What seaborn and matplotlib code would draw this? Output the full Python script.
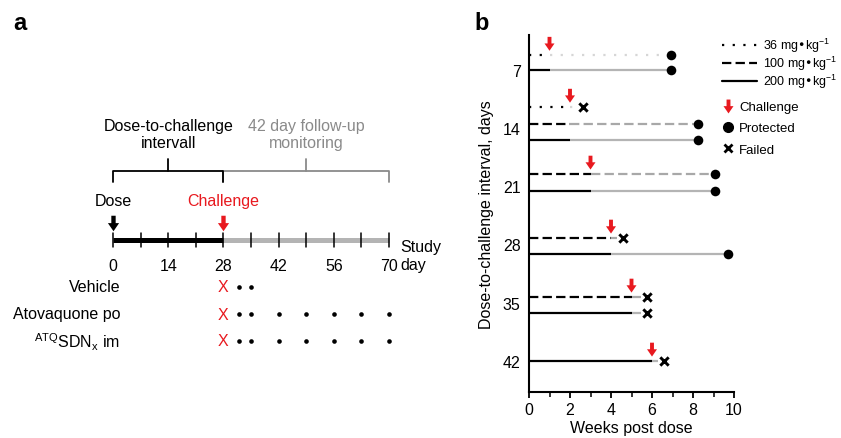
import numpy as np
import pandas as pd
import matplotlib
matplotlib.use("Agg")
import matplotlib.pyplot as plt
from matplotlib.path import Path
from matplotlib.lines import Line2D
import seaborn as sns

# ---- panel a: study schedule (days)
tick_days = [0, 14, 28, 42, 56, 70]
week_marks = [0, 7, 14, 21, 28, 35, 42, 49, 56, 63, 70]
dose_day = 0
challenge_day = 28
study_end = 70
groups = ["Vehicle", "Atovaquone po", "$^{ATQ}$SDN$_{x}$ im"]
vehicle_days = [32, 35]
atq_po_days = [32, 35, 42, 49, 56, 63, 70]
sdn_days = [32, 35, 42, 49, 56, 63, 70]

# ---- panel b: dose-to-challenge cohorts
intervals = [7, 7, 14, 14, 14, 21, 21, 28, 28, 35, 35, 42]
doses = ["36", "200", "36", "100", "200", "100", "200", "100", "200", "100", "200", "200"]
row_pos = [5.2, 7.0, 11.45, 13.5, 15.4, 19.5, 21.55, 27.2, 29.1, 34.3, 36.2, 42.0]
end_weeks = [6.93, 6.93, 2.63, 8.24, 8.24, 9.07, 9.07, 4.59, 9.7, 5.76, 5.76, 6.6]
outcomes = ["Protected", "Protected", "Failed", "Protected", "Protected", "Protected",
            "Protected", "Failed", "Protected", "Failed", "Failed", "Failed"]
interval_ticks = [7, 14, 21, 28, 35, 42]
dose_labels = ["36 mg•kg$^{-1}$", "100 mg•kg$^{-1}$", "200 mg•kg$^{-1}$"]

RED = "#e8191f"
GREY_TXT = "#8a8a8a"
dose_style = {"36": (0, (1, 3.8)), "100": (0, (4.2, 1.9)), "200": "-"}
dose_grey = {"36": "#d6d6d6", "100": "#a8a8a8", "200": "#b4b4b4"}

# block arrow pointing down
arrow = Path([(-0.28, 1.0), (0.28, 1.0), (0.28, 0.05), (0.72, 0.05), (0.0, -1.0),
              (-0.72, 0.05), (-0.28, 0.05), (-0.28, 1.0)],
             [Path.MOVETO] + [Path.LINETO] * 6 + [Path.CLOSEPOLY])

sns.set_theme(style="ticks")
plt.rcParams["font.family"] = ["Liberation Sans", "DejaVu Sans"]
plt.rcParams["mathtext.default"] = "regular"
for key in ("text.color", "axes.labelcolor", "xtick.color", "ytick.color", "axes.edgecolor"):
    plt.rcParams[key] = "black"
FS = 11.5

W, H = 841, 439
fig = plt.figure(figsize=(W / 100, H / 100), dpi=100)

# ================= panel a =================
axa = fig.add_axes([0, 0, 0.5, 1])
px_per_day = 3.943
x0 = 113
tl_y = -0.74

axa.plot([challenge_day, study_end], [tl_y, tl_y], color="#b4b4b4", lw=3.6, solid_capstyle="butt")
axa.plot([dose_day, challenge_day], [tl_y, tl_y], color="black", lw=3.6, solid_capstyle="butt")
for d in week_marks:
    axa.plot([d, d], [tl_y - 0.27, tl_y + 0.27], color="black", lw=1.1)
for d in tick_days:
    axa.text(d, 0.2, str(d), ha="center", va="center", fontsize=FS)
axa.text(72.8, -0.16, "Study\nday", ha="left", va="center", fontsize=FS, linespacing=1.2)

axa.scatter([dose_day], [-1.37], marker=arrow, s=125, color="black", linewidths=0)
axa.scatter([challenge_day], [-1.37], marker=arrow, s=125, color=RED, linewidths=0)
axa.text(dose_day, -2.22, "Dose", ha="center", va="center", fontsize=FS)
axa.text(challenge_day, -2.22, "Challenge", ha="center", va="center", fontsize=FS, color=RED)

# brackets
b_low, b_mid, b_top = -2.9, -3.3, -3.74
axa.plot([challenge_day, challenge_day, study_end, study_end], [b_low, b_mid, b_mid, b_low],
         color=GREY_TXT, lw=1.3)
axa.plot([49, 49], [b_mid, b_top], color=GREY_TXT, lw=1.3)
axa.plot([dose_day, dose_day, challenge_day, challenge_day], [b_low, b_mid, b_mid, b_low],
         color="black", lw=1.3)
axa.plot([14, 14], [b_mid, b_top], color="black", lw=1.3)
axa.text(14, -4.67, "Dose-to-challenge\nintervall", ha="center", va="center", fontsize=FS,
         linespacing=1.15)
axa.text(49, -4.67, "42 day follow-up\nmonitoring", ha="center", va="center", fontsize=FS,
         color=GREY_TXT, linespacing=1.15)

obs = pd.DataFrame({
    "day": vehicle_days + atq_po_days + sdn_days,
    "row": [1] * len(vehicle_days) + [2] * len(atq_po_days) + [3] * len(sdn_days),
})
sns.scatterplot(data=obs, x="day", y="row", color="black", s=11, linewidth=0,
                ax=axa, legend=False)
for i, g in enumerate(groups, start=1):
    axa.text(1.8, i, g, ha="right", va="center", fontsize=FS)
    axa.text(challenge_day, i, "X", ha="center", va="center", fontsize=FS, color=RED)

axa.set_xlim(-x0 / px_per_day, (W / 2 - x0) / px_per_day)
axa.set_ylim((H - 288) / 27 + 1, (0 - 288) / 27 + 1)
axa.axis("off")

# ================= panel b =================
df = pd.DataFrame({"interval": intervals, "dose": doses, "row": row_pos,
                   "end": end_weeks, "outcome": outcomes})
df["challenge"] = df["interval"] / 7

axb = fig.add_axes([529 / W, 1 - 393 / H, 205 / W, 357 / H])
for r in df.itertuples():
    stop = r.end - (0.3 if r.outcome == "Failed" else 0)
    axb.plot([0, r.challenge], [r.row, r.row], color="black", lw=1.6,
             ls=dose_style[r.dose], solid_capstyle="butt", dash_capstyle="butt")
    axb.plot([r.challenge, stop], [r.row, r.row], color=dose_grey[r.dose], lw=1.6,
             ls=dose_style[r.dose], solid_capstyle="butt", dash_capstyle="butt")

sns.scatterplot(data=df[df["outcome"] == "Protected"], x="end", y="row", color="black",
                s=48, marker="o", linewidth=0, ax=axb, legend=False, clip_on=False, zorder=5)
sns.scatterplot(data=df[df["outcome"] == "Failed"], x="end", y="row", color="black",
                s=36, marker="x", linewidth=2.1, ax=axb, legend=False, clip_on=False, zorder=5)

arrows = df.groupby("interval").agg(challenge=("challenge", "first"), row=("row", "min")).reset_index()
arrows["ay"] = arrows["row"] - 1.35
sns.scatterplot(data=arrows, x="challenge", y="ay", color=RED, edgecolor="none", s=100,
                marker=arrow, ax=axb, legend=False, clip_on=False, zorder=6)

axb.set_xlim(0, 10)
axb.set_ylim(45.75, 2.79)
axb.set_xticks(range(0, 11, 2))
axb.set_xticks(range(1, 10, 2), minor=True)
axb.set_yticks(interval_ticks)
axb.set_yticklabels([str(v) for v in interval_ticks])
axb.tick_params(axis="x", which="major", length=4.5, width=1.3, pad=3, labelsize=FS)
axb.tick_params(axis="x", which="minor", length=3.5, width=1.1)
axb.tick_params(axis="y", length=0, pad=6, labelsize=FS)
axb.set_xlabel("Weeks post dose", fontsize=FS, labelpad=2)
axb.set_ylabel("Dose-to-challenge interval, days", fontsize=FS, labelpad=6)
sns.despine(ax=axb)
for s in ("left", "bottom"):
    axb.spines[s].set_linewidth(1.5)

line_handles = [Line2D([], [], color="black", lw=1.6, ls=dose_style[d]) for d in ["36", "100", "200"]]
leg1 = axb.legend(line_handles, dose_labels, loc="upper left",
                  bbox_to_anchor=(722 / W, 1 - 37 / H), bbox_transform=fig.transFigure,
                  frameon=False, fontsize=9, handlelength=2.8, handletextpad=0.45,
                  labelspacing=-0.02, borderpad=0, borderaxespad=0)
axb.add_artist(leg1)
mark_handles = [
    Line2D([], [], ls="none", marker=arrow, color=RED, markersize=10, markeredgewidth=0),
    Line2D([], [], ls="none", marker="o", color="black", markersize=7),
    Line2D([], [], ls="none", marker="x", color="black", markersize=6, markeredgewidth=2),
]
axb.legend(mark_handles, ["Challenge", "Protected", "Failed"], loc="upper left",
           bbox_to_anchor=(722 / W, 1 - 102 / H), bbox_transform=fig.transFigure,
           frameon=False, fontsize=9.5, handlelength=0.9, handletextpad=0.4,
           labelspacing=0.68, borderpad=0, borderaxespad=0)

fig.text(13 / W, 1 - 30 / H, "a", fontsize=17, fontweight="bold", va="baseline")
fig.text(474 / W, 1 - 30 / H, "b", fontsize=17, fontweight="bold", va="baseline")

fig.savefig("out.png", dpi=100)
